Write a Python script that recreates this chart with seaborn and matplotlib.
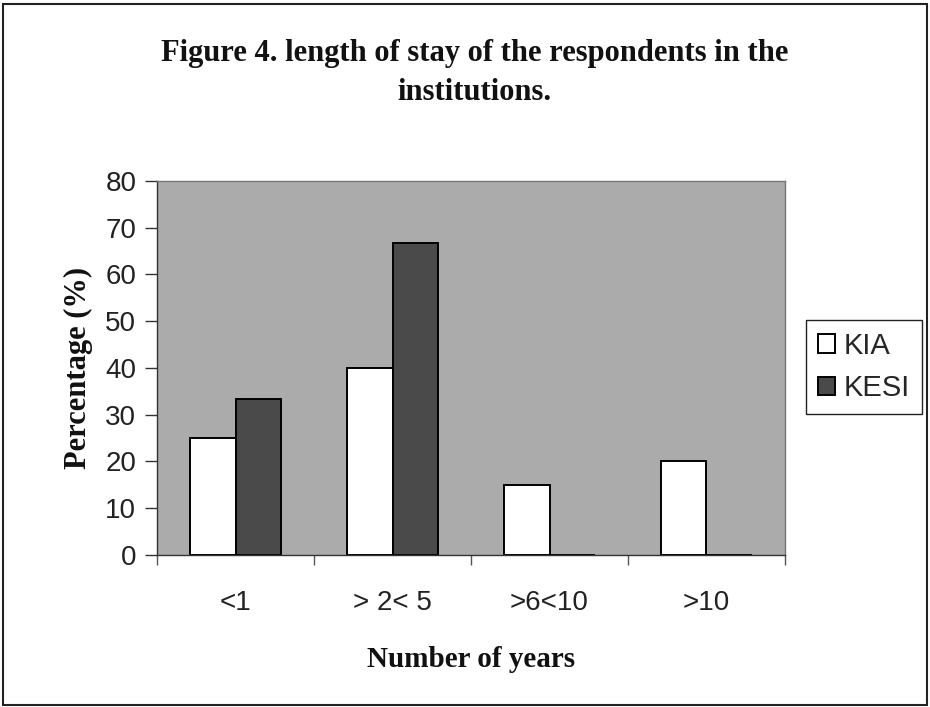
"""
Figure 4: length of stay of the respondents in the institutions (KIA vs KESI)
"""

import numpy as np
import pandas as pd
import matplotlib
matplotlib.use("Agg")
import matplotlib.pyplot as plt
from matplotlib.patches import Rectangle
import seaborn as sns

# 数据
categories = ["<1", "> 2< 5", ">6<10", ">10"]
kia = [25, 40, 15, 20]
kesi = [33.3, 66.7, 0, 0]
groups = ["KIA", "KESI"]
yticks = [0, 10, 20, 30, 40, 50, 60, 70, 80]

SERIF = ["Liberation Serif", "DejaVu Serif"]
SANS = ["Liberation Sans", "DejaVu Sans"]

sns.set_theme(style="white")
plt.rcParams["font.family"] = SANS

df = pd.DataFrame({
    "Years": categories * 2,
    "Percentage": kia + kesi,
    "Group": [groups[0]] * len(kia) + [groups[1]] * len(kesi),
})

fig = plt.figure(figsize=(9.3, 7.07), dpi=100)
fig.patch.set_facecolor("white")
ax = fig.add_axes([0.169, 0.215, 0.675, 0.529])
ax.set_facecolor("#ababab")

sns.barplot(
    data=df, x="Years", y="Percentage", hue="Group",
    order=categories, hue_order=groups,
    palette={"KIA": "white", "KESI": "#4a4a4a"},
    width=0.58, edgecolor="black", linewidth=1.4,
    errorbar=None, ax=ax,
)

ax.set_ylim(0, 80)
ax.set_xlim(-0.5, len(categories) - 0.5)
ax.set_yticks(yticks)
ax.tick_params(axis="y", labelsize=20, length=9, width=1, color="#333333",
               direction="out", left=True, pad=6, labelcolor="#222222")
ax.tick_params(axis="x", which="major", labelsize=20, length=0, pad=25,
               labelcolor="#222222")
ax.set_xticks(np.arange(-0.5, len(categories)), minor=True)
ax.tick_params(axis="x", which="minor", length=7, width=1, color="#555555",
               bottom=True, direction="out")

for side in ["top", "right"]:
    ax.spines[side].set_color("#777777")
    ax.spines[side].set_linewidth(1)
for side in ["left", "bottom"]:
    ax.spines[side].set_color("#333333")
    ax.spines[side].set_linewidth(1)

ax.set_xlabel("Number of years", fontsize=21, fontweight="bold",
              family=SERIF, labelpad=22, color="#111111")
ax.set_ylabel("Percentage (%)", fontsize=22, fontweight="bold",
              family=SERIF, labelpad=9, color="#111111")

leg = ax.legend(
    loc="center left", bbox_to_anchor=(806 / 930, 1 - 367 / 707),
    bbox_transform=fig.transFigure, fontsize=21, frameon=True,
    fancybox=False, edgecolor="#222222", framealpha=1,
    handlelength=0.6, handleheight=0.6, handletextpad=0.3,
    borderpad=0.4, labelspacing=0.5, borderaxespad=0,
)
leg.get_frame().set_linewidth(1)

# 标题（两行）
fig.text(0.51, 1 - 53 / 707, "Figure 4. length of stay of the respondents in the",
         ha="center", va="center", fontsize=22, fontweight="bold",
         family=SERIF, color="#111111")
fig.text(0.51, 1 - 92 / 707, "institutions.",
         ha="center", va="center", fontsize=22, fontweight="bold",
         family=SERIF, color="#111111")

# 外框
fig.patches.append(Rectangle((0.003, 0.003), 0.994, 0.992, transform=fig.transFigure,
                             fill=False, edgecolor="#222222", linewidth=1.5))

fig.savefig("out.png", dpi=100, facecolor="white")
plt.close(fig)
